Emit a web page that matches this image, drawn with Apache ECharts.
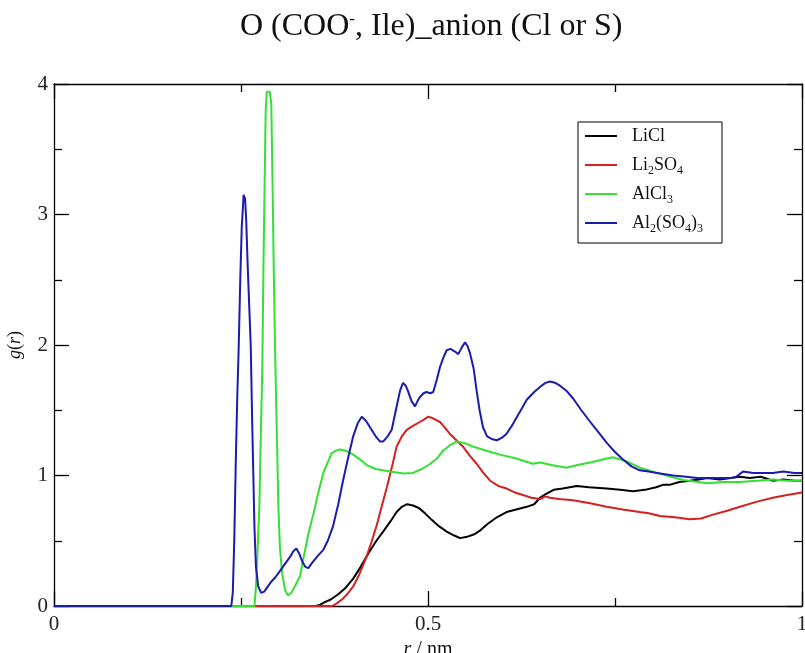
<!DOCTYPE html>
<html>
<head>
<meta charset="utf-8">
<script src="https://cdn.jsdelivr.net/npm/echarts@6/dist/echarts.min.js"></script>
<style>
  html, body { margin: 0; padding: 0; background: #ffffff; }
  #chart { width: 805px; height: 653px; }
</style>
</head>
<body>
<div id="chart"></div>
<script>
// Radial distribution functions g(r), r in nm
const seriesNames = ['LiCl', 'Li2SO4', 'AlCl3', 'Al2(SO4)3'];
const legendLabels = ['LiCl', 'Li{s|2}SO{s|4}', 'AlCl{s|3}', 'Al{s|2}(SO{s|4}){s|3}'];
const seriesColors = ['#000000', '#d61f1f', '#33e033', '#1b1bb0'];

const xTickLabels = ['0', '0.5', '1'];
const yTickLabels = ['0', '1', '2', '3', '4'];

const liclPoints = [
  [0, 0], [0.350, 0], [0.356, 0.01], [0.362, 0.03], [0.370, 0.05], [0.380, 0.09],
  [0.390, 0.14], [0.400, 0.21], [0.410, 0.30], [0.420, 0.40], [0.431, 0.50],
  [0.440, 0.57], [0.450, 0.65], [0.458, 0.72], [0.465, 0.76], [0.472, 0.78],
  [0.480, 0.77], [0.488, 0.75], [0.496, 0.71], [0.505, 0.66], [0.515, 0.61],
  [0.525, 0.57], [0.535, 0.54], [0.543, 0.52], [0.552, 0.53], [0.562, 0.55],
  [0.570, 0.58], [0.580, 0.63], [0.592, 0.68], [0.605, 0.72], [0.618, 0.74],
  [0.632, 0.76], [0.642, 0.78], [0.650, 0.83], [0.658, 0.86], [0.668, 0.89],
  [0.680, 0.90], [0.699, 0.92], [0.715, 0.91], [0.739, 0.90], [0.757, 0.89],
  [0.774, 0.88], [0.790, 0.89], [0.805, 0.91], [0.815, 0.93], [0.824, 0.93],
  [0.836, 0.95], [0.850, 0.96], [0.862, 0.97], [0.873, 0.98], [0.890, 0.97],
  [0.905, 0.98], [0.917, 0.99], [0.930, 0.98], [0.945, 0.99], [0.961, 0.96],
  [0.975, 0.97], [0.990, 0.96], [1.0, 0.96]
];

const li2so4Points = [
  [0, 0], [0.372, 0], [0.378, 0.02], [0.385, 0.05], [0.392, 0.09], [0.400, 0.15],
  [0.408, 0.24], [0.418, 0.38], [0.425, 0.50], [0.431, 0.61], [0.438, 0.76],
  [0.445, 0.91], [0.452, 1.07], [0.458, 1.22], [0.465, 1.30], [0.4715, 1.35],
  [0.480, 1.38], [0.489, 1.41], [0.495, 1.43], [0.500, 1.45], [0.506, 1.44],
  [0.516, 1.41], [0.522, 1.37], [0.529, 1.32], [0.538, 1.27], [0.547, 1.22],
  [0.556, 1.15], [0.565, 1.09], [0.574, 1.02], [0.583, 0.96], [0.594, 0.92],
  [0.605, 0.90], [0.616, 0.87], [0.627, 0.85], [0.638, 0.83], [0.650, 0.82],
  [0.657, 0.84], [0.663, 0.83], [0.675, 0.82], [0.694, 0.81], [0.715, 0.79],
  [0.739, 0.76], [0.760, 0.74], [0.783, 0.72], [0.795, 0.71], [0.810, 0.69],
  [0.830, 0.68], [0.850, 0.665], [0.865, 0.67], [0.881, 0.70], [0.900, 0.73],
  [0.917, 0.76], [0.940, 0.80], [0.961, 0.83], [0.980, 0.85], [1.0, 0.87]
];

const alcl3Points = [
  [0, 0], [0.268, 0], [0.270, 0.15], [0.272, 0.4], [0.2745, 0.76], [0.2765, 1.3],
  [0.2785, 1.83], [0.280, 2.6], [0.2815, 3.2], [0.283, 3.8], [0.2845, 3.94],
  [0.2885, 3.94], [0.2905, 3.85], [0.292, 3.3], [0.294, 2.5], [0.296, 1.83],
  [0.298, 1.3], [0.300, 0.76], [0.302, 0.45], [0.305, 0.25], [0.309, 0.12],
  [0.313, 0.08], [0.317, 0.10], [0.322, 0.15], [0.329, 0.23], [0.334, 0.38],
  [0.340, 0.55], [0.347, 0.71], [0.353, 0.86], [0.360, 1.02], [0.366, 1.10],
  [0.371, 1.17], [0.377, 1.19], [0.382, 1.20], [0.390, 1.19], [0.400, 1.16],
  [0.410, 1.12], [0.418, 1.08], [0.430, 1.05], [0.449, 1.03], [0.467, 1.015],
  [0.480, 1.02], [0.492, 1.05], [0.503, 1.09], [0.512, 1.13], [0.520, 1.19],
  [0.529, 1.23], [0.538, 1.26], [0.548, 1.25], [0.561, 1.22], [0.578, 1.19],
  [0.596, 1.16], [0.618, 1.13], [0.640, 1.09], [0.650, 1.10], [0.665, 1.08],
  [0.685, 1.06], [0.700, 1.08], [0.717, 1.10], [0.732, 1.12], [0.747, 1.14],
  [0.765, 1.11], [0.783, 1.06], [0.806, 1.02], [0.825, 0.99], [0.841, 0.965],
  [0.873, 0.94], [0.895, 0.95], [0.917, 0.95], [0.940, 0.96], [0.961, 0.97],
  [0.980, 0.96], [1.0, 0.96]
];

const al2so43Points = [
  [0, 0], [0.237, 0], [0.239, 0.1], [0.241, 0.5], [0.243, 1.1], [0.245, 1.6],
  [0.247, 2.0], [0.249, 2.5], [0.251, 2.9], [0.2535, 3.15], [0.2555, 3.12],
  [0.257, 2.95], [0.259, 2.6], [0.261, 2.3], [0.263, 2.0], [0.265, 1.4],
  [0.2665, 1.0], [0.268, 0.6], [0.270, 0.3], [0.273, 0.15], [0.277, 0.1],
  [0.281, 0.11], [0.286, 0.15], [0.291, 0.19], [0.296, 0.22], [0.301, 0.26],
  [0.306, 0.30], [0.311, 0.34], [0.316, 0.38], [0.320, 0.42], [0.324, 0.44],
  [0.328, 0.40], [0.332, 0.34], [0.336, 0.30], [0.340, 0.29], [0.345, 0.33],
  [0.352, 0.38], [0.360, 0.43], [0.366, 0.50], [0.373, 0.61], [0.380, 0.78],
  [0.3864, 0.96], [0.393, 1.13], [0.400, 1.30], [0.406, 1.40], [0.4114, 1.45],
  [0.417, 1.42], [0.4225, 1.37], [0.430, 1.30], [0.436, 1.26], [0.440, 1.26],
  [0.446, 1.30], [0.4515, 1.35], [0.457, 1.50], [0.4626, 1.65], [0.4666, 1.71],
  [0.470, 1.69], [0.473, 1.65], [0.478, 1.57], [0.4826, 1.53], [0.486, 1.57],
  [0.489, 1.60], [0.494, 1.63], [0.498, 1.64], [0.503, 1.63], [0.507, 1.64],
  [0.512, 1.74], [0.516, 1.83], [0.521, 1.91], [0.525, 1.96], [0.530, 1.97],
  [0.536, 1.95], [0.5405, 1.93], [0.545, 1.98], [0.5495, 2.02], [0.553, 1.99],
  [0.556, 1.94], [0.561, 1.82], [0.565, 1.65], [0.569, 1.50], [0.5735, 1.37],
  [0.579, 1.30], [0.585, 1.28], [0.592, 1.27], [0.599, 1.29], [0.605, 1.32],
  [0.612, 1.38], [0.620, 1.46], [0.626, 1.52], [0.632, 1.58], [0.642, 1.64],
  [0.650, 1.68], [0.657, 1.71], [0.663, 1.72], [0.670, 1.71], [0.676, 1.69],
  [0.685, 1.65], [0.694, 1.59], [0.705, 1.50], [0.717, 1.41], [0.728, 1.33],
  [0.739, 1.25], [0.750, 1.18], [0.761, 1.12], [0.772, 1.07], [0.783, 1.04],
  [0.795, 1.03], [0.806, 1.02], [0.817, 1.01], [0.828, 1.00], [0.845, 0.99],
  [0.860, 0.98], [0.873, 0.98], [0.890, 0.98], [0.905, 0.98], [0.912, 0.99],
  [0.921, 1.03], [0.935, 1.02], [0.950, 1.02], [0.961, 1.02], [0.975, 1.03],
  [0.990, 1.02], [1.0, 1.02]
];

const allPoints = [liclPoints, li2so4Points, alcl3Points, al2so43Points];

const serif = '"Liberation Serif", "DejaVu Serif", "Times New Roman", serif';

const chart = echarts.init(document.getElementById('chart'), null, { renderer: 'canvas' });

// Closed frame: every axis carries inward major and minor ticks
function frameAxis(extra) {
  return Object.assign({
    axisLine: { show: true, onZero: false, lineStyle: { color: '#000', width: 1.3 } },
    axisTick: { show: true, inside: true, length: 15, lineStyle: { color: '#000', width: 1.3 } },
    minorTick: { show: true, splitNumber: 2, length: 8, lineStyle: { color: '#000', width: 1.3 } },
    splitLine: { show: false },
    minorSplitLine: { show: false }
  }, extra);
}

const option = {
  animation: false,
  backgroundColor: '#ffffff',
  title: {
    text: 'O (COO{sup|-}, Ile)_anion (Cl or S)',
    left: 235,
    top: 6,
    textStyle: {
      fontFamily: serif,
      fontSize: 32,
      fontWeight: 'normal',
      color: '#111',
      rich: {
        sup: { fontFamily: serif, fontSize: 17, verticalAlign: 'top', lineHeight: 6, color: '#111' }
      }
    }
  },
  legend: {
    orient: 'vertical',
    left: 578,
    top: 122,
    padding: [2, 19, 8, 7],
    itemGap: 5,
    itemWidth: 32,
    itemHeight: 2,
    icon: 'rect',
    backgroundColor: '#ffffff',
    borderColor: '#000',
    borderWidth: 1,
    borderRadius: 0,
    data: seriesNames,
    formatter: function (name) {
      return legendLabels[seriesNames.indexOf(name)];
    },
    textStyle: {
      fontFamily: serif,
      fontSize: 18,
      color: '#111',
      lineHeight: 24,
      padding: [0, 0, 0, 10],
      rich: {
        s: { fontFamily: serif, fontSize: 12, lineHeight: 12, verticalAlign: 'bottom', color: '#111' }
      }
    }
  },
  grid: { left: 54, right: 3, top: 84, bottom: 47, containLabel: false, outerBoundsMode: 'none' },
  xAxis: [
    frameAxis({
      type: 'value', min: 0, max: 1, interval: 0.5, position: 'bottom',
      name: '{i|r} / nm', nameLocation: 'middle', nameGap: 29,
      nameTextStyle: {
        fontFamily: serif, fontSize: 20, color: '#111',
        rich: { i: { fontFamily: serif, fontSize: 20, fontStyle: 'italic', color: '#111' } }
      },
      axisLabel: {
        fontFamily: serif, fontSize: 21, color: '#222', margin: 8,
        formatter: function (v) { return xTickLabels[Math.round(v * 2)]; }
      }
    }),
    frameAxis({
      type: 'value', min: 0, max: 1, interval: 0.5, position: 'top',
      axisLabel: { show: false }
    })
  ],
  yAxis: [
    frameAxis({
      type: 'value', min: 0, max: 4, interval: 1, position: 'left',
      name: '{i|g}({i|r})', nameLocation: 'middle', nameGap: 30,
      nameTextStyle: {
        fontFamily: serif, fontSize: 18, color: '#111',
        rich: { i: { fontFamily: serif, fontSize: 18, fontStyle: 'italic', color: '#111' } }
      },
      axisLabel: {
        fontFamily: serif, fontSize: 21, color: '#222', margin: 6,
        formatter: function (v) { return yTickLabels[Math.round(v)]; }
      }
    }),
    frameAxis({
      type: 'value', min: 0, max: 4, interval: 1, position: 'right',
      axisLabel: { show: false }
    })
  ],
  series: seriesNames.map(function (name, i) {
    return {
      name: name,
      type: 'line',
      xAxisIndex: 0,
      yAxisIndex: 0,
      data: allPoints[i],
      showSymbol: false,
      symbol: 'none',
      color: seriesColors[i],
      lineStyle: { color: seriesColors[i], width: 2 },
      z: 2 + i
    };
  })
};

chart.setOption(option);
</script>
</body>
</html>
